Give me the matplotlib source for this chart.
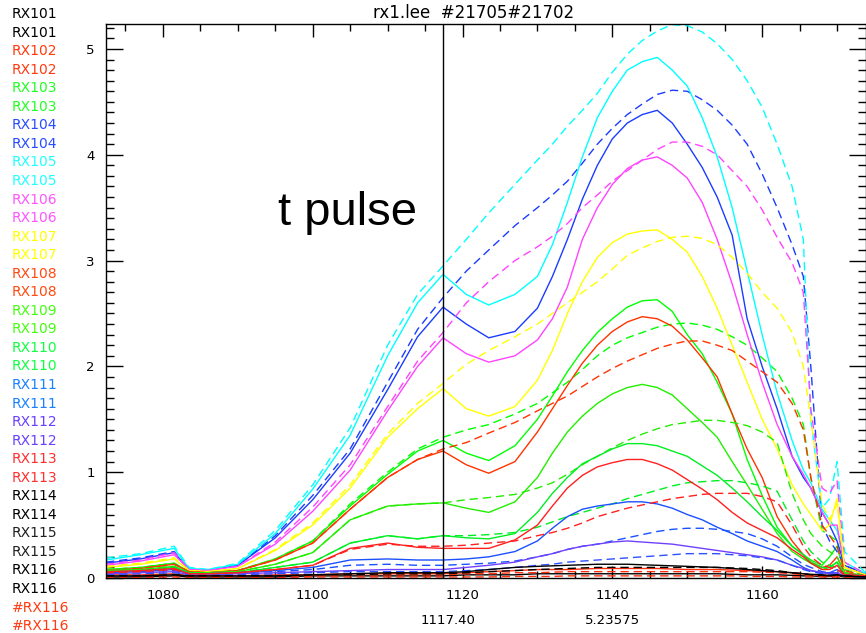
import matplotlib
matplotlib.use("Agg")
import matplotlib.pyplot as plt
from matplotlib.ticker import MultipleLocator

# ---------------- data ----------------
time_ms = [1072.4, 1077, 1081.5, 1083.5, 1086, 1090, 1095, 1100, 1105, 1110, 1114,
           1117.4, 1120.5, 1123.5, 1127, 1130,
           1132, 1134, 1136, 1138, 1140, 1142, 1144, 1146, 1148, 1150, 1152, 1154,
           1156, 1158, 1160, 1162, 1164, 1165.5, 1166.5, 1168, 1169, 1170, 1171, 1173.8]

rx105_d = [0.19, 0.23, 0.30, 0.10, 0.08, 0.14, 0.45, 0.88, 1.42, 2.20, 2.68, 2.95, 3.20, 3.45, 3.72, 3.95,
           4.10, 4.27, 4.42, 4.58, 4.78, 4.95, 5.08, 5.17, 5.23, 5.22, 5.16, 5.05,
           4.90, 4.70, 4.45, 4.10, 3.70, 3.20, 1.50, 0.66, 0.75, 1.10, 0.25, 0.05]
rx105_s = [0.17, 0.22, 0.28, 0.09, 0.08, 0.13, 0.42, 0.84, 1.35, 2.10, 2.60, 2.87, 2.68, 2.58, 2.68, 2.85,
           3.15, 3.55, 3.98, 4.35, 4.60, 4.80, 4.88, 4.92, 4.80, 4.65, 4.35, 3.98,
           3.50, 2.90, 2.30, 1.75, 1.30, 1.02, 0.90, 0.65, 0.55, 0.45, 0.15, 0.04]
rx104_d = [0.15, 0.19, 0.25, 0.08, 0.07, 0.12, 0.40, 0.78, 1.22, 1.85, 2.35, 2.65, 2.90, 3.10, 3.33, 3.50,
           3.62, 3.75, 3.92, 4.10, 4.25, 4.38, 4.48, 4.57, 4.61, 4.60, 4.52, 4.42,
           4.28, 4.10, 3.82, 3.50, 3.15, 2.85, 2.00, 0.50, 0.35, 0.25, 0.12, 0.04]
rx104_s = [0.14, 0.18, 0.24, 0.08, 0.07, 0.12, 0.38, 0.74, 1.18, 1.78, 2.28, 2.56, 2.40, 2.27, 2.33, 2.55,
           2.85, 3.20, 3.58, 3.90, 4.15, 4.30, 4.38, 4.42, 4.30, 4.10, 3.88, 3.60,
           3.24, 2.45, 2.00, 1.60, 1.15, 0.95, 0.85, 0.62, 0.50, 0.35, 0.12, 0.03]
rx106_d = [0.13, 0.17, 0.24, 0.08, 0.07, 0.11, 0.34, 0.67, 1.07, 1.62, 2.05, 2.32, 2.60, 2.80, 3.00, 3.13,
           3.23, 3.35, 3.50, 3.62, 3.75, 3.85, 3.95, 4.05, 4.12, 4.12, 4.08, 4.00,
           3.85, 3.70, 3.48, 3.22, 2.98, 2.70, 1.60, 0.85, 0.80, 0.92, 0.15, 0.04]
rx106_s = [0.12, 0.16, 0.22, 0.08, 0.07, 0.11, 0.32, 0.63, 1.02, 1.58, 2.00, 2.27, 2.12, 2.04, 2.10, 2.25,
           2.45, 2.75, 3.20, 3.50, 3.72, 3.87, 3.95, 3.98, 3.90, 3.78, 3.55, 3.20,
           2.78, 2.30, 1.85, 1.45, 1.15, 0.98, 0.85, 0.62, 0.50, 0.50, 0.10, 0.03]
rx107_s = [0.10, 0.13, 0.18, 0.07, 0.06, 0.09, 0.26, 0.50, 0.85, 1.33, 1.60, 1.79, 1.60, 1.53, 1.62, 1.87,
           2.15, 2.50, 2.80, 3.03, 3.17, 3.25, 3.28, 3.29, 3.20, 3.08, 2.85, 2.55,
           2.20, 1.85, 1.50, 1.22, 0.88, 0.70, 0.60, 0.45, 0.50, 0.75, 0.10, 0.03]
rx107_d = [0.11, 0.14, 0.19, 0.07, 0.06, 0.09, 0.27, 0.52, 0.88, 1.36, 1.65, 1.84, 2.02, 2.15, 2.28, 2.40,
           2.50, 2.60, 2.70, 2.80, 2.92, 3.05, 3.12, 3.18, 3.22, 3.23, 3.21, 3.15,
           3.03, 2.88, 2.70, 2.55, 2.32, 2.00, 1.50, 0.70, 0.55, 0.70, 0.10, 0.03]
rx103_s = [0.08, 0.10, 0.14, 0.06, 0.05, 0.07, 0.18, 0.35, 0.68, 0.98, 1.20, 1.30, 1.18, 1.11, 1.25, 1.50,
           1.72, 1.95, 2.15, 2.32, 2.45, 2.56, 2.62, 2.63, 2.52, 2.30, 2.12, 1.85,
           1.55, 1.12, 0.78, 0.48, 0.30, 0.22, 0.17, 0.12, 0.20, 0.30, 0.05, 0.02]
rx103_d = [0.08, 0.10, 0.14, 0.06, 0.05, 0.07, 0.18, 0.35, 0.70, 1.00, 1.22, 1.33, 1.40, 1.45, 1.55, 1.65,
           1.75, 1.85, 1.97, 2.10, 2.20, 2.27, 2.32, 2.37, 2.40, 2.41, 2.39, 2.35,
           2.28, 2.20, 2.08, 1.95, 1.70, 1.45, 0.95, 0.45, 0.40, 0.35, 0.08, 0.02]
rx108_s = [0.07, 0.09, 0.13, 0.06, 0.05, 0.07, 0.17, 0.33, 0.65, 0.95, 1.12, 1.20, 1.07, 0.99, 1.10, 1.38,
           1.60, 1.82, 2.03, 2.20, 2.33, 2.42, 2.47, 2.45, 2.38, 2.25, 2.08, 1.90,
           1.55, 1.22, 0.95, 0.58, 0.35, 0.22, 0.15, 0.10, 0.12, 0.20, 0.05, 0.02]
rx108_d = [0.07, 0.09, 0.13, 0.06, 0.05, 0.07, 0.17, 0.33, 0.65, 0.95, 1.12, 1.22, 1.28, 1.37, 1.47, 1.58,
           1.65, 1.72, 1.81, 1.90, 1.98, 2.05, 2.11, 2.17, 2.21, 2.24, 2.24, 2.20,
           2.15, 2.05, 1.95, 1.85, 1.65, 1.40, 0.95, 0.50, 0.40, 0.30, 0.07, 0.02]
rx109_s = [0.07, 0.08, 0.11, 0.05, 0.05, 0.06, 0.13, 0.24, 0.55, 0.68, 0.70, 0.71, 0.66, 0.62, 0.72, 0.95,
           1.18, 1.38, 1.53, 1.65, 1.74, 1.80, 1.83, 1.80, 1.73, 1.60, 1.47, 1.33,
           1.10, 0.88, 0.65, 0.42, 0.25, 0.18, 0.14, 0.08, 0.10, 0.15, 0.04, 0.02]
rx109_d = [0.07, 0.08, 0.11, 0.05, 0.05, 0.06, 0.13, 0.24, 0.55, 0.68, 0.70, 0.71, 0.74, 0.76, 0.79, 0.85,
           0.90, 0.98, 1.07, 1.15, 1.23, 1.30, 1.36, 1.41, 1.45, 1.47, 1.49, 1.49,
           1.47, 1.44, 1.38, 1.28, 0.80, 0.55, 0.42, 0.30, 0.25, 0.20, 0.05, 0.02]
rx110_s = [0.06, 0.07, 0.10, 0.05, 0.04, 0.05, 0.10, 0.15, 0.33, 0.40, 0.37, 0.40, 0.38, 0.37, 0.42, 0.62,
           0.80, 0.95, 1.08, 1.15, 1.22, 1.27, 1.27, 1.25, 1.20, 1.15, 1.06, 0.97,
           0.85, 0.72, 0.58, 0.45, 0.30, 0.22, 0.15, 0.10, 0.10, 0.15, 0.03, 0.02]
rx110_d = [0.06, 0.07, 0.10, 0.05, 0.04, 0.05, 0.10, 0.15, 0.33, 0.40, 0.37, 0.40, 0.40, 0.41, 0.43, 0.48,
           0.53, 0.58, 0.62, 0.66, 0.70, 0.75, 0.79, 0.83, 0.87, 0.90, 0.91, 0.92,
           0.92, 0.90, 0.87, 0.82, 0.55, 0.35, 0.25, 0.15, 0.12, 0.10, 0.03, 0.02]
rx113_s = [0.06, 0.07, 0.09, 0.04, 0.04, 0.05, 0.08, 0.12, 0.28, 0.33, 0.29, 0.28, 0.28, 0.28, 0.36, 0.50,
           0.68, 0.85, 0.97, 1.05, 1.09, 1.12, 1.12, 1.08, 1.02, 0.93, 0.84, 0.74,
           0.62, 0.52, 0.45, 0.38, 0.27, 0.20, 0.14, 0.08, 0.08, 0.12, 0.03, 0.02]
rx113_d = [0.05, 0.06, 0.08, 0.04, 0.04, 0.05, 0.08, 0.12, 0.27, 0.32, 0.30, 0.30, 0.31, 0.33, 0.35, 0.40,
           0.43, 0.47, 0.52, 0.58, 0.62, 0.66, 0.69, 0.72, 0.75, 0.77, 0.79, 0.80,
           0.80, 0.80, 0.77, 0.72, 0.50, 0.30, 0.20, 0.12, 0.10, 0.08, 0.03, 0.02]
rx111_s = [0.05, 0.06, 0.08, 0.04, 0.04, 0.05, 0.07, 0.10, 0.17, 0.18, 0.17, 0.17, 0.18, 0.20, 0.25, 0.35,
           0.47, 0.58, 0.65, 0.68, 0.70, 0.72, 0.72, 0.70, 0.66, 0.60, 0.55, 0.48,
           0.42, 0.35, 0.30, 0.25, 0.17, 0.10, 0.07, 0.05, 0.05, 0.08, 0.03, 0.02]
rx111_d = [0.05, 0.06, 0.07, 0.04, 0.04, 0.05, 0.06, 0.08, 0.12, 0.13, 0.12, 0.12, 0.13, 0.14, 0.16, 0.20,
           0.23, 0.27, 0.30, 0.32, 0.35, 0.38, 0.41, 0.44, 0.46, 0.47, 0.47, 0.46,
           0.44, 0.42, 0.37, 0.30, 0.20, 0.13, 0.10, 0.06, 0.05, 0.05, 0.03, 0.02]
rx112_s = [0.04, 0.05, 0.06, 0.03, 0.03, 0.04, 0.05, 0.06, 0.07, 0.08, 0.08, 0.08, 0.10, 0.12, 0.15, 0.20,
           0.23, 0.27, 0.30, 0.32, 0.34, 0.35, 0.34, 0.33, 0.32, 0.30, 0.28, 0.26,
           0.24, 0.22, 0.20, 0.17, 0.12, 0.09, 0.07, 0.05, 0.04, 0.05, 0.02, 0.01]
rx112_d = [0.03, 0.04, 0.05, 0.03, 0.03, 0.03, 0.04, 0.05, 0.06, 0.06, 0.06, 0.06, 0.07, 0.08, 0.10, 0.12,
           0.13, 0.15, 0.16, 0.17, 0.18, 0.19, 0.20, 0.21, 0.22, 0.23, 0.23, 0.23,
           0.22, 0.21, 0.19, 0.17, 0.12, 0.08, 0.06, 0.04, 0.03, 0.04, 0.02, 0.01]
rx114_s = [0.02, 0.02, 0.03, 0.02, 0.02, 0.02, 0.02, 0.03, 0.04, 0.05, 0.05, 0.05, 0.06, 0.08, 0.10, 0.11,
           0.115, 0.12, 0.125, 0.13, 0.13, 0.13, 0.125, 0.12, 0.115, 0.11, 0.105, 0.10,
           0.09, 0.08, 0.07, 0.06, 0.05, 0.04, 0.035, 0.03, 0.025, 0.03, 0.02, 0.01]
rx114_d = [0.02, 0.02, 0.03, 0.02, 0.02, 0.02, 0.02, 0.03, 0.03, 0.04, 0.04, 0.04, 0.05, 0.06, 0.07, 0.08,
           0.085, 0.09, 0.095, 0.10, 0.10, 0.10, 0.10, 0.10, 0.10, 0.10, 0.10, 0.10,
           0.095, 0.09, 0.08, 0.07, 0.05, 0.04, 0.03, 0.025, 0.02, 0.03, 0.02, 0.01]
rx102_s = [0.03, 0.03, 0.04, 0.02, 0.02, 0.02, 0.03, 0.03, 0.04, 0.04, 0.04, 0.04, 0.05, 0.06, 0.07, 0.08,
           0.08, 0.08, 0.085, 0.09, 0.09, 0.09, 0.09, 0.09, 0.085, 0.08, 0.08, 0.08,
           0.075, 0.07, 0.065, 0.06, 0.05, 0.04, 0.03, 0.025, 0.02, 0.03, 0.02, 0.01]
rx102_d = [0.02, 0.02, 0.03, 0.02, 0.02, 0.02, 0.02, 0.02, 0.03, 0.03, 0.03, 0.03, 0.04, 0.04, 0.05, 0.05,
           0.055, 0.06, 0.06, 0.06, 0.06, 0.06, 0.06, 0.06, 0.06, 0.06, 0.06, 0.06,
           0.06, 0.06, 0.055, 0.05, 0.04, 0.03, 0.025, 0.02, 0.02, 0.02, 0.01, 0.01]
rx115_s = [0.01, 0.01, 0.02, 0.01, 0.01, 0.01, 0.01, 0.02, 0.02, 0.02, 0.02, 0.02, 0.03, 0.03, 0.03, 0.04,
           0.04, 0.04, 0.04, 0.04, 0.04, 0.04, 0.04, 0.04, 0.04, 0.04, 0.04, 0.04,
           0.035, 0.03, 0.03, 0.03, 0.025, 0.02, 0.02, 0.015, 0.015, 0.02, 0.01, 0.01]
rx116_s = [0.005, 0.005, 0.01, 0.005, 0.005, 0.005, 0.005, 0.01, 0.01, 0.01, 0.01, 0.01, 0.01, 0.01, 0.015, 0.015,
           0.015, 0.02, 0.02, 0.02, 0.02, 0.02, 0.02, 0.02, 0.02, 0.02, 0.02, 0.02,
           0.02, 0.015, 0.015, 0.015, 0.01, 0.01, 0.01, 0.01, 0.005, 0.01, 0.005, 0.005]

# (values, colour, solid/dashed) in drawing order
series = [
    (rx115_s, "#000000", "-"), (rx116_s, "#ff3010", "--"),
    (rx102_s, "#ff3010", "-"), (rx102_d, "#ff3010", "--"),
    (rx103_s, "#00ff00", "-"), (rx103_d, "#00ff00", "--"),
    (rx104_s, "#1a3cff", "-"), (rx104_d, "#1a3cff", "--"),
    (rx105_s, "#00ffff", "-"), (rx105_d, "#00ffff", "--"),
    (rx106_s, "#ff44ff", "-"), (rx106_d, "#ff44ff", "--"),
    (rx107_s, "#ffff00", "-"), (rx107_d, "#ffff00", "--"),
    (rx108_s, "#ff3300", "-"), (rx108_d, "#ff3300", "--"),
    (rx109_s, "#22ee00", "-"), (rx109_d, "#22ee00", "--"),
    (rx110_s, "#00ee22", "-"), (rx110_d, "#00ee22", "--"),
    (rx111_s, "#1a50ff", "-"), (rx111_d, "#1a50ff", "--"),
    (rx112_s, "#7040ff", "-"), (rx112_d, "#3050ff", "--"),
    (rx113_s, "#ff2020", "-"), (rx113_d, "#ff2020", "--"),
    (rx114_s, "#000000", "-"), (rx114_d, "#000000", "--"),
]

legend_names = ["RX101", "RX101", "RX102", "RX102", "RX103", "RX103", "RX104", "RX104",
                "RX105", "RX105", "RX106", "RX106", "RX107", "RX107", "RX108", "RX108",
                "RX109", "RX109", "RX110", "RX110", "RX111", "RX111", "RX112", "RX112",
                "RX113", "RX113", "RX114", "RX114", "RX115", "RX115", "RX116", "RX116",
                "#RX116", "#RX116"]
legend_colors = ["#000000", "#000000", "#ff3a10", "#ff3a10", "#22ff22", "#22ff22",
                 "#2a4cff", "#2a4cff", "#22ffff", "#22ffff", "#ff55ff", "#ff55ff",
                 "#ffff00", "#ffff00", "#ff4a10", "#ff4a10", "#44ff10", "#44ff10",
                 "#10ff44", "#10ff44", "#1a80ff", "#1a80ff", "#6a40ff", "#6a40ff",
                 "#ff3030", "#ff3030", "#000000", "#000000", "#202020", "#202020",
                 "#000000", "#000000", "#ff3a10", "#ff3a10"]

pulse_time = 1117.40
peak_value = 5.23575
title_text = "rx1.lee  #21705#21702"

# ---------------- figure ----------------
W, H = 866, 633
fig = plt.figure(figsize=(W / 100, H / 100), dpi=100)
fig.patch.set_facecolor("white")
ax = fig.add_axes([106 / W, 1 - 578 / H, (865.5 - 106) / W, (578 - 24) / H])

for ys, col, ls in series:
    if ls == "--":
        ax.plot(time_ms, ys, color=col, lw=1.0, dashes=(6, 3.5))
    else:
        ax.plot(time_ms, ys, color=col, lw=1.0)

ax.axvline(pulse_time, color="black", lw=1.0)

ax.set_xlim(1072.4, 1173.8)
ax.set_ylim(0, peak_value)
ax.xaxis.set_major_locator(MultipleLocator(20))
ax.xaxis.set_minor_locator(MultipleLocator(5))
ax.yaxis.set_major_locator(MultipleLocator(1))
ax.yaxis.set_minor_locator(MultipleLocator(0.1))
ax.tick_params(axis="both", which="both", direction="in", top=True, right=True,
               width=1.0, colors="black", labelsize=9.5)
ax.tick_params(axis="x", which="major", length=9, pad=8)
ax.tick_params(axis="x", which="minor", length=5)
ax.tick_params(axis="y", which="major", length=12, pad=8)
ax.tick_params(axis="y", which="minor", length=6)
for sp in ax.spines.values():
    sp.set_linewidth(1.0)
    sp.set_color("black")

fig.text(474 / W, 1 - 13 / H, title_text, ha="center", va="center", fontsize=12)
fig.text(347 / W, 1 - 213 / H, "t pulse", ha="center", va="center", fontsize=34,
         family="Liberation Sans")
fig.text(448 / W, 1 - 620 / H, f"{pulse_time:.2f}", ha="center", va="center", fontsize=9.5)
fig.text(612 / W, 1 - 620 / H, f"{peak_value:.5f}", ha="center", va="center", fontsize=9.5)

for i, (name, col) in enumerate(zip(legend_names, legend_colors)):
    fig.text(12 / W, 1 - (14 + i * 18.55) / H, name, ha="left", va="center",
             fontsize=10, color=col)

fig.savefig("out.png", dpi=100)
